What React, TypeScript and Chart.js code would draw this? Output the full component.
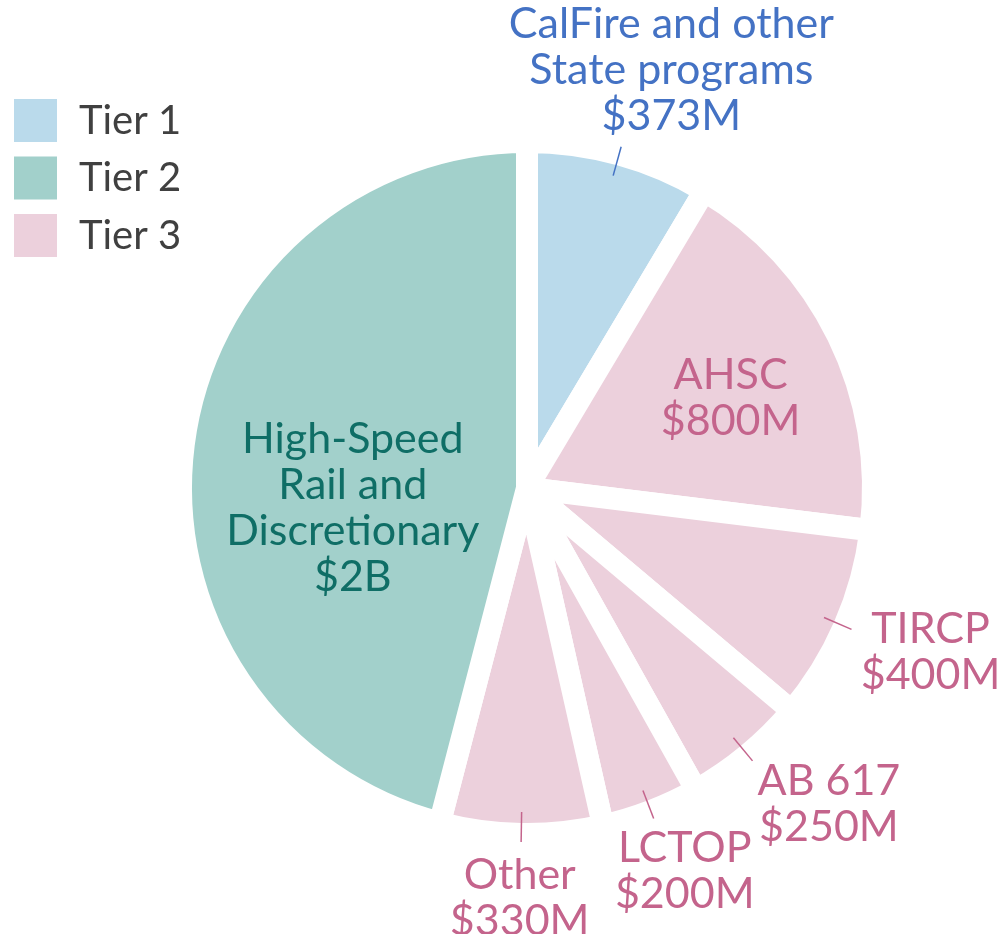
import React, { useEffect, useRef } from 'react';
import { Chart, registerables } from 'chart.js';

Chart.register(...registerables);

// ---- Data ----
const categories = [
  'CalFire and other State programs',
  'AHSC',
  'TIRCP',
  'AB 617',
  'LCTOP',
  'Other',
  'High-Speed Rail and Discretionary',
];
const labelLines: string[][] = [
  ['CalFire and other', 'State programs'],
  ['AHSC'],
  ['TIRCP'],
  ['AB 617'],
  ['LCTOP'],
  ['Other'],
  ['High-Speed', 'Rail and', 'Discretionary'],
];
const valueLabels = ['$373M', '$800M', '$400M', '$250M', '$200M', '$330M', '$2B'];
const valuesMillions = [373, 800, 400, 250, 200, 330, 2000];
const tierOfSlice = [1, 3, 3, 3, 3, 3, 2];
const tierNames = ['Tier 1', 'Tier 2', 'Tier 3'];

// ---- Styles / label placement config ----
const tierFill = ['#BADAEB', '#A2D0CB', '#ECD0DC'];
const tierText = ['#4472C4', '#0F6E66', '#C4648C'];
const FONT = 'Lato, "Noto Sans", sans-serif';
const LABEL_FONT = `400 43px ${FONT}`;
const LEGEND_FONT = `400 40px ${FONT}`;
const LINE_H = 46;
// inside labels: radius fraction and angular shift (degrees)
const insidePlacement: Record<number, { r: number; shift: number }> = {
  1: { r: 0.643, shift: 2.3 },
  6: { r: 0.507, shift: -14 },
};
const outsideNudgeX: Record<number, number> = { 3: 20 };

const labelPlugin = {
  id: 'pieLabels',
  afterDatasetsDraw(chart: any) {
    const ctx = chart.ctx;
    const meta = chart.getDatasetMeta(0);
    ctx.save();
    ctx.font = LABEL_FONT;
    ctx.textBaseline = 'middle';
    ctx.textAlign = 'center';
    meta.data.forEach((arc: any, i: number) => {
      const { x, y, startAngle, endAngle, outerRadius } = arc.getProps(
        ['x', 'y', 'startAngle', 'endAngle', 'outerRadius'],
        true
      );
      const mid = (startAngle + endAngle) / 2;
      const color = tierText[tierOfSlice[i] - 1];
      const lines = [...labelLines[i], valueLabels[i]];
      const w = Math.max(...lines.map((l) => ctx.measureText(l).width));
      const h = lines.length * LINE_H;
      let cx: number;
      let cy: number;
      const inside = insidePlacement[i];
      if (inside) {
        const a = mid + (inside.shift * Math.PI) / 180;
        const r = outerRadius * inside.r;
        cx = x + Math.cos(a) * r;
        cy = y + Math.sin(a) * r;
      } else {
        const dx = Math.cos(mid);
        const dy = Math.sin(mid);
        ctx.strokeStyle = color;
        ctx.lineWidth = 1.5;
        ctx.beginPath();
        ctx.moveTo(x + dx * (outerRadius - 22), y + dy * (outerRadius - 22));
        ctx.lineTo(x + dx * (outerRadius + 8), y + dy * (outerRadius + 8));
        ctx.stroke();
        const ax = x + dx * (outerRadius + 18);
        const ay = y + dy * (outerRadius + 18);
        const f = Math.min(1, Math.abs(dx) * 1.1) * Math.sign(dx);
        cx = ax + f * (w / 2) + (outsideNudgeX[i] || 0);
        cy = ay + dy * (h / 2);
      }
      ctx.fillStyle = color;
      const top = cy - h / 2 + LINE_H / 2;
      lines.forEach((l, k) => ctx.fillText(l, cx, top + k * LINE_H));
    });

    // legend
    ctx.textAlign = 'left';
    ctx.font = LEGEND_FONT;
    tierNames.forEach((name, k) => {
      const top = 99 + k * 57.5;
      ctx.fillStyle = tierFill[k];
      ctx.fillRect(14, top, 43, 43);
      ctx.fillStyle = '#404040';
      ctx.fillText(name, 79, top + 22);
    });
    ctx.restore();
  },
};

export default function App() {
  const ref = useRef<HTMLCanvasElement | null>(null);
  useEffect(() => {
    document.body.style.margin = '0';
    if (!ref.current) return;
    const chart = new Chart(ref.current, {
      type: 'pie',
      data: {
        labels: categories,
        datasets: [
          {
            data: valuesMillions,
            backgroundColor: tierOfSlice.map((t) => tierFill[t - 1]),
            borderColor: '#ffffff',
            borderWidth: 22,
            hoverOffset: 0,
          },
        ],
      },
      options: {
        responsive: false,
        animation: false,
        devicePixelRatio: 1,
        radius: 346,
        layout: { padding: { left: 55, top: 42, right: 0, bottom: 0 } },
        events: [],
        plugins: {
          legend: { display: false },
          tooltip: { enabled: false },
        },
      } as any,
      plugins: [labelPlugin],
    });
    return () => chart.destroy();
  }, []);
  return (
    <div style={{ position: 'absolute', left: 0, top: 0, width: 999, height: 934, background: '#fff' }}>
      <canvas ref={ref} width={999} height={934} style={{ width: 999, height: 934 }} />
    </div>
  );
}
